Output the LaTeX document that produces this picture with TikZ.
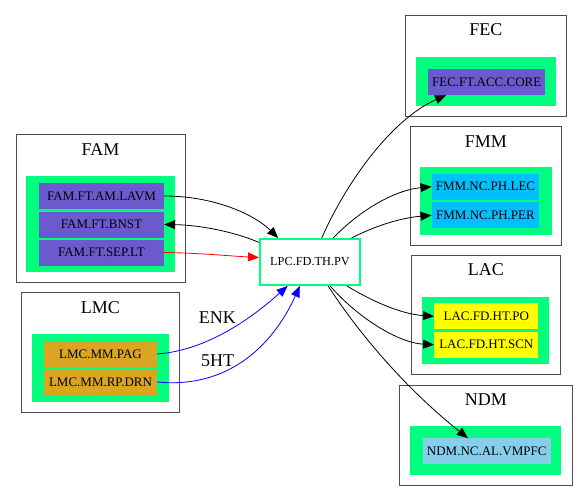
\documentclass[tikz,border=0pt]{standalone}
\usepackage{fontspec}
\setmainfont{Liberation Serif}
\usepackage{tikz}
\usetikzlibrary{arrows.meta}

\definecolor{sgreen}{HTML}{00FF7F}
\definecolor{sblue}{HTML}{6A5ACD}
\definecolor{gold}{HTML}{DAA520}
\definecolor{dsky}{HTML}{00BFFF}
\definecolor{sky}{HTML}{87CEEB}
\definecolor{yel}{HTML}{FFFF00}

\begin{document}
\begin{tikzpicture}[x=1pt, y=-1pt,
  clu/.style={draw=black!70, line width=1pt},
  grp/.style={fill=sgreen},
  cell/.style={inner sep=0pt, minimum height=26pt, font=\fontsize{13}{15}\selectfont},
  ttl/.style={font=\fontsize{18}{21}\selectfont},
  edge/.style={line width=0.8pt, -{Triangle[length=11pt,width=9pt]}}]
\useasboundingbox (0,0) rectangle (588,501);
% clusters
\foreach \xa/\ya/\xb/\yb in {16/134.7/185/282, 21.7/292.7/179.3/412, 405/15.7/566.7/116,
    410/126.7/561.7/245, 411.7/255.7/560/374.7, 399.7/385/572/485.3}
  \draw[clu] (\xa,\ya) rectangle (\xb,\yb);
\foreach \xa/\ya/\xb/\yb in {26/176/175/271.7, 32/334/169/401.7, 415.7/56.7/556/105.7,
    420/167.3/551.7/235, 422/296.7/549.3/364, 410.3/426/561.3/474.7}
  \fill[grp] (\xa,\ya) rectangle (\xb,\yb);
\foreach \n/\x/\y in {FAM/100.5/149.5, LMC/100.5/308, FEC/485.8/30, FMM/485.8/141.7,
    LAC/485.8/270, NDM/485.8/400}
  \node[ttl] (t\n) at (\x,\y) {\n};
% cells
\foreach \n/\x/\y/\w/\c/\l in {lavm/101.5/196/125/sblue/FAM.FT.AM.LAVM,
    bnst/101.5/224.5/125/sblue/FAM.FT.BNST, seplt/101.5/252.5/125/sblue/FAM.FT.SEP.LT,
    pag/100.5/354/113/gold/LMC.MM.PAG, drn/100.5/382/113/gold/LMC.MM.RP.DRN,
    core/486.7/82/116.7/sblue/FEC.FT.ACC.CORE,
    lec/485.5/186.7/107.6/dsky/FMM.NC.PH.LEC, per/485.5/215.3/107.6/dsky/FMM.NC.PH.PER,
    po/486.3/316.3/104/yel/LAC.FD.HT.PO, scn/486.3/344.7/104/yel/LAC.FD.HT.SCN,
    vmpfc/486.7/451.3/128/sky/NDM.NC.AL.VMPFC}
  \node[cell, fill=\c, minimum width=\w] (\n) at (\x,\y) {\l};
\node[draw=sgreen, line width=2pt, fill=white, minimum width=100pt, minimum height=46pt,
  font=\fontsize{12.3}{14}\selectfont] (lpc) at (310,262) {LPC.FD.TH.PV};
% edges
\draw[edge] (lavm.east) .. controls (215,196) and (255,215) .. (lpc.143);
\draw[edge] (lpc.159) .. controls (235,232) and (200,225) .. (bnst.east);
\draw[edge, red] (seplt.east) .. controls (200,253) and (230,256) .. (lpc.175);
\draw[edge, blue] (pag.east) .. controls (210,350) and (255,315) .. (lpc.227);
\draw[edge, blue] (drn.east) .. controls (240,390) and (280,330) .. (lpc.247);
\node[ttl] (enk) at (217.3,317.5) {ENK};
\node[ttl] (fht) at (217.5,360.5) {5HT};
\draw[edge] (lpc.64) .. controls (345,185) and (390,120) .. (core.198);
\draw[edge] (lpc.46) .. controls (360,210) and (395,190) .. (lec.west);
\draw[edge] (lpc.30) .. controls (375,226) and (400,218) .. (per.west);
\draw[edge] (lpc.-33) .. controls (370,300) and (400,314) .. (po.west);
\draw[edge] (lpc.-50) .. controls (360,320) and (400,343) .. (scn.west);
\draw[edge] (lpc.-53) .. controls (370,350) and (420,400) .. (vmpfc.145);
\end{tikzpicture}
\end{document}
